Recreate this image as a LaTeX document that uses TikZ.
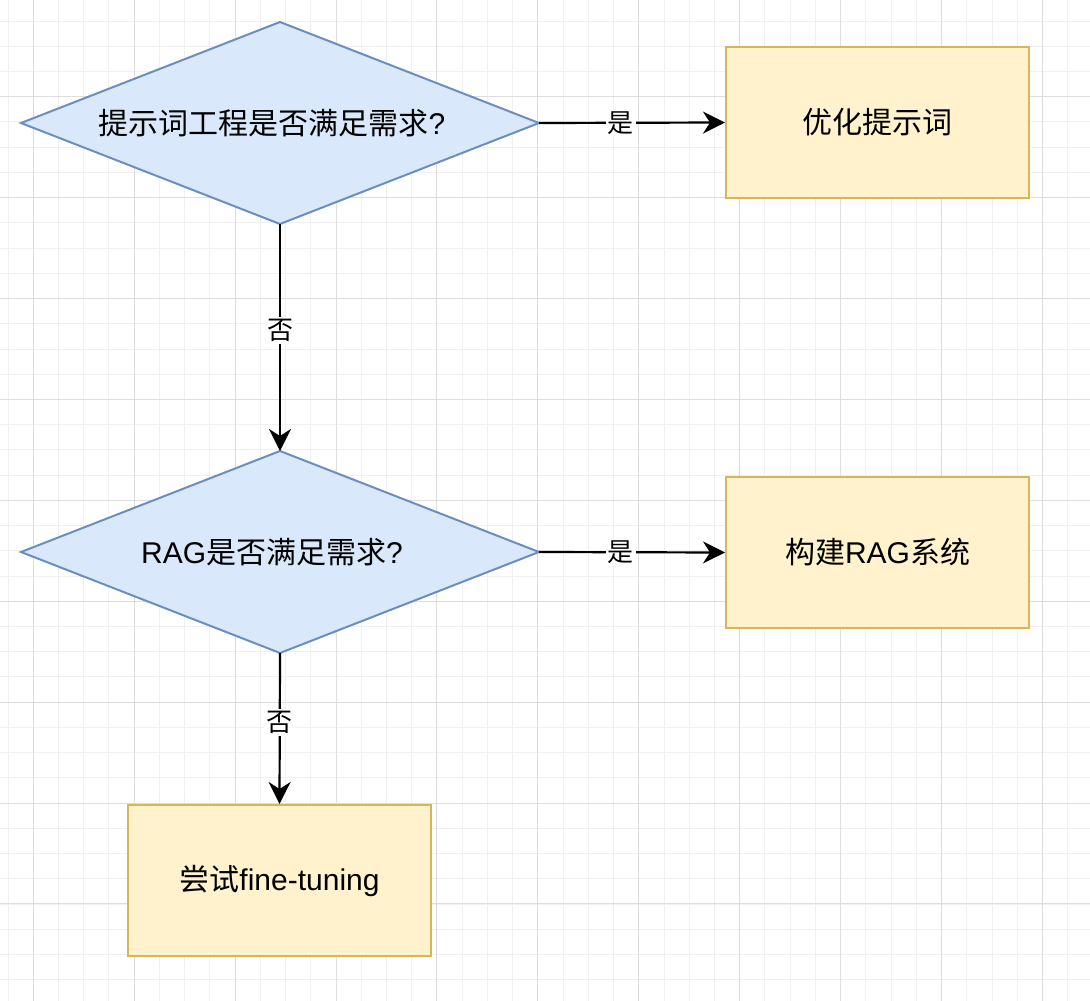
\documentclass[tikz,border=0pt]{standalone}
\usepackage{fontspec}
\setmainfont{Liberation Sans}
\newfontfamily\cjk{Noto Sans CJK SC}
\usetikzlibrary{arrows.meta}
\definecolor{gminor}{HTML}{F0F0F0}
\definecolor{gmajor}{HTML}{DEDEDE}
\definecolor{dfill}{HTML}{DAE8FC}
\definecolor{dline}{HTML}{6C8EBF}
\definecolor{bfill}{HTML}{FFF2CC}
\definecolor{bline}{HTML}{D6B656}
\tikzset{
  boxnode/.style={draw=bline,fill=bfill,line width=2pt,minimum width=303pt,minimum height=151pt,inner sep=0pt,font=\fontsize{30}{34}\selectfont},
  txt/.style={font=\fontsize{30}{34}\selectfont,inner sep=0pt},
  flow/.style={line width=2.2pt,-{Stealth[length=22pt,width=22pt,inset=7pt]}},
  elabel/.style={fill=white,inner sep=2pt,font=\cjk\fontsize{26}{28}\selectfont}
}
\begin{document}
\begin{tikzpicture}[x=1pt,y=-1pt]
\useasboundingbox (0,0) rectangle (1090,1001);
\fill[white] (0,0) rectangle (1090,1001);
% grid
\foreach \i in {-1,...,43} {
  \pgfmathsetmacro{\gx}{33.3+25.23*(\i)}
  \draw[gminor,line width=1pt] (\gx,0) -- (\gx,1001);
}
\foreach \i in {-4,...,36} {
  \pgfmathsetmacro{\gy}{96.7+25.23*(\i)}
  \draw[gminor,line width=1pt] (0,\gy) -- (1090,\gy);
}
\foreach \i in {0,...,10} {
  \pgfmathsetmacro{\gx}{33.3+100.9*(\i)}
  \draw[gmajor,line width=1pt] (\gx,0) -- (\gx,1001);
}
\foreach \i in {-1,...,9} {
  \pgfmathsetmacro{\gy}{96.7+100.9*(\i)}
  \draw[gmajor,line width=1pt] (0,\gy) -- (1090,\gy);
}
% decisions
\coordinate (d1) at (280,123);
\coordinate (d2) at (280,552);
\filldraw[fill=dfill,draw=dline,line width=2pt,line join=miter]
  (21,123) -- (280,22) -- (539,123) -- (280,224) -- cycle;
\filldraw[fill=dfill,draw=dline,line width=2pt,line join=miter]
  (21,552) -- (280,451) -- (539,552) -- (280,653) -- cycle;
\coordinate (d1r) at (539,123);
\coordinate (d1b) at (280,224);
\coordinate (d2t) at (280,451);
\coordinate (d2r) at (539,552);
\coordinate (d2b) at (280,653);
\node[txt] (t1) at (272,123) {{\cjk 提示词工程是否满足需求}?};
\node[txt] (t2) at (272,552) {RAG{\cjk 是否满足需求}?};
% boxes
\node[boxnode] (b1) at (877.5,122.5) {\cjk 优化提示词};
\node[boxnode] (b2) at (877.5,552.5) {{\cjk 构建}RAG{\cjk 系统}};
\node[boxnode] (b3) at (279.5,880.5) {{\cjk 尝试}fine-tuning};
% connectors
\draw[flow] (d1r) -- node[elabel,pos=0.44] {是} (b1.west);
\draw[flow] (d2r) -- node[elabel,pos=0.44] {是} (b2.west);
\draw[flow] (d1b) -- node[elabel,pos=0.47] {否} (d2t);
\draw[flow] (d2b) -- node[elabel,pos=0.46] {否} (b3.north);
\end{tikzpicture}
\end{document}
